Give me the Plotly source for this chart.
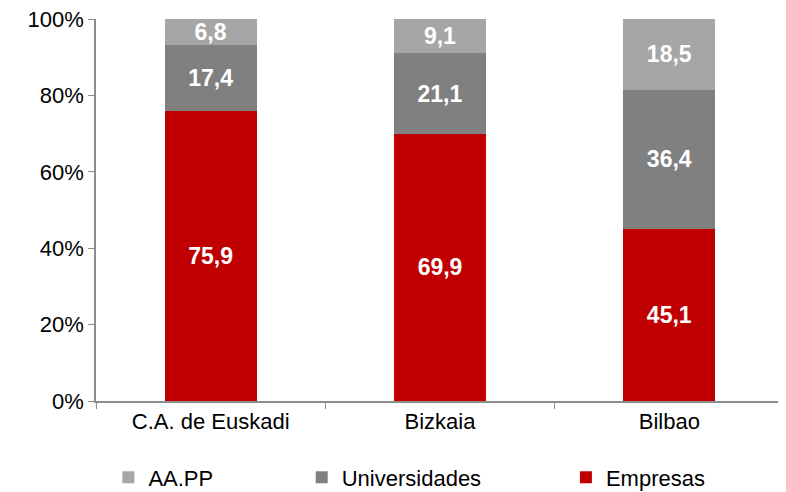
import plotly.graph_objects as go

categorias = ["C.A. de Euskadi", "Bizkaia", "Bilbao"]
empresas = [75.9, 69.9, 45.1]
universidades = [17.4, 21.1, 36.4]
aapp = [6.8, 9.1, 18.5]
y_ticks = [0, 20, 40, 60, 80, 100]
y_tick_labels = ["0%", "20%", "40%", "60%", "80%", "100%"]

FONT = "Liberation Sans, Arial, sans-serif"


def etiquetas(vals):
    return [f"{v:.1f}".replace(".", ",") for v in vals]


# (nombre, valores, color, leyenda)
series = [
    ("Empresas", empresas, "#C00000", "legend3"),
    ("Universidades", universidades, "#808080", "legend2"),
    ("AA.PP", aapp, "#A6A6A6", "legend"),
]

fig = go.Figure()
for nombre, vals, color, leg in series:
    fig.add_trace(go.Bar(
        x=categorias, y=vals, name=nombre, legend=leg,
        marker=dict(color=color, line_width=0),
        text=etiquetas(vals), textposition="inside", insidetextanchor="middle",
        textangle=0, constraintext="none",
        textfont=dict(color="white", size=23, family=FONT, weight="bold"),
        width=0.4,
    ))

leg_comun = dict(orientation="h", y=-0.2, yanchor="middle", xanchor="left",
                 font=dict(size=22, family=FONT, color="black"),
                 bgcolor="rgba(0,0,0,0)", itemwidth=30)

# la página tiene 8px de margen, por eso 778x484
fig.update_layout(
    barmode="stack",
    width=778, height=484,
    margin=dict(l=88, r=2, t=11, b=91, autoexpand=False),
    plot_bgcolor="white", paper_bgcolor="white",
    font=dict(family=FONT, size=22, color="black"),
    showlegend=True,
    legend=dict(x=0.018, **leg_comun),
    legend2=dict(x=0.299, **leg_comun),
    legend3=dict(x=0.683, **leg_comun),
)
fig.update_yaxes(
    range=[0, 100], tickvals=y_ticks, ticktext=y_tick_labels,
    ticklabeloverflow="allow",
    showgrid=False, zeroline=False,
    showline=True, linecolor="#8C8C8C", linewidth=1.5,
    ticks="outside", ticklen=6, tickcolor="#8C8C8C",
)
fig.update_xaxes(
    showline=True, linecolor="#8C8C8C", linewidth=1.5,
    ticks="outside", tickson="boundaries", ticklen=6, tickcolor="#8C8C8C",
    showgrid=False,
)

fig.write_html("out.html")
